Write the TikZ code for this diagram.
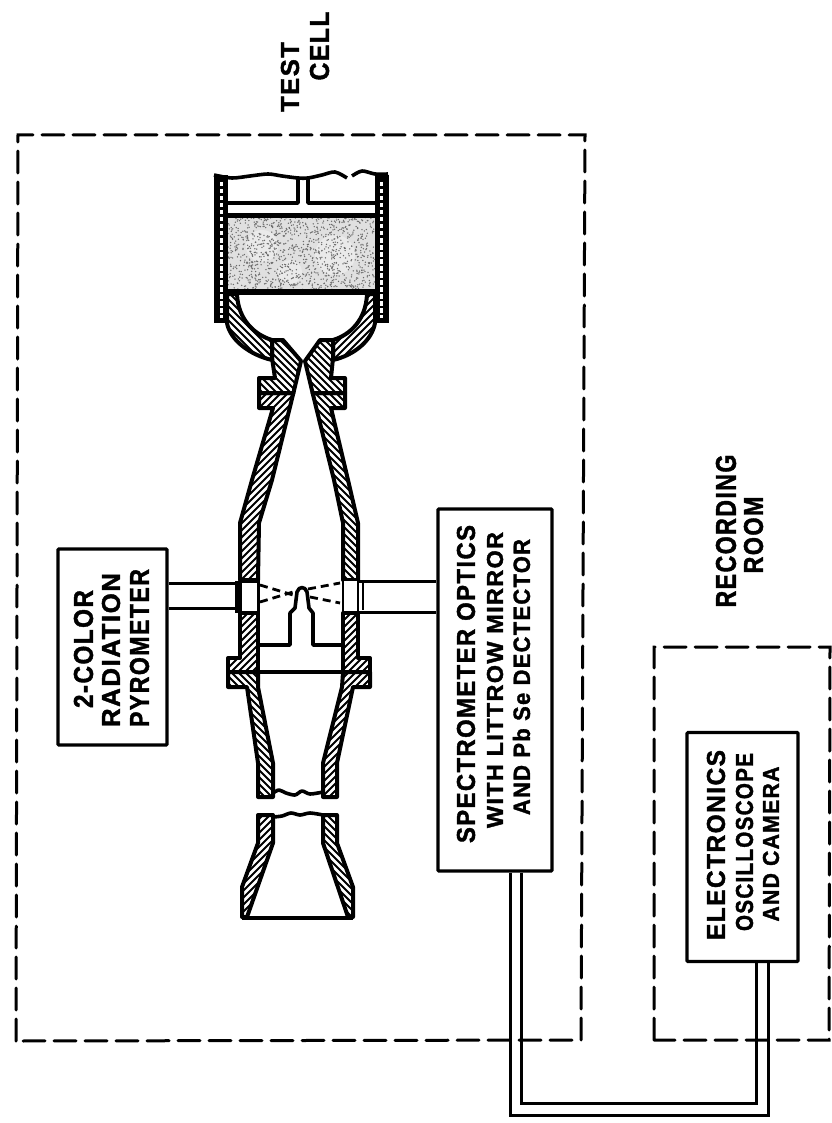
\documentclass[tikz,border=0pt]{standalone}
\usepackage{fontspec}
\usepackage{graphicx}
\setmainfont{Liberation Sans}
\newfontfamily\lblfont{Liberation Sans Bold}[FakeBold=1.6,LetterSpace=6]
\newcommand{\wallp}[4]{%
  \begin{scope}
    \path[clip] #1 -- cycle;
    \foreach \o in {-150,-143,...,150}{\draw[hatchline] ({#3+\o-200*#2},{#4-200}) -- ({#3+\o+200*#2},{#4+200});}
  \end{scope}
  \draw[wallline] #1 -- cycle;}
\newcommand{\lbl}[6]{\node[lab] (#1) at (#2,#3) {\resizebox{#4pt}{#5pt}{\lblfont #6}};}
\tikzset{
  lab/.style={rotate=90,inner sep=0pt,outer sep=0pt},
  boxnode/.style={draw=black,line width=3.2pt,rounded corners=1pt,inner sep=0pt,fill=white},
  dashbox/.style={draw=black,line width=3pt,dash pattern=on 22pt off 9pt,line cap=round},
  wire/.style={draw=black,line width=3pt},
  hatchline/.style={black,line width=2pt},
  wallline/.style={black,line width=4pt,line join=round},
  thinwall/.style={black,line width=3.6pt,line join=round},
  beam/.style={black,line width=2.8pt,dash pattern=on 8pt off 5pt}
}
\begin{document}
\begin{tikzpicture}[x=1pt,y=-1pt]
\useasboundingbox (0,0) rectangle (831,1123);
\fill[white] (0,0) rectangle (831,1123);
% rooms
\draw[dashbox] (16,1041) -- (18,135) -- (585,135) -- (581,1040) -- cycle;
\draw[dashbox] (654,1040) -- (654,647) -- (830,647) -- (829,1040) -- cycle;
% boxes
\node[boxnode,minimum width=109pt,minimum height=196pt] (pyro) at (112.5,647) {};
\node[boxnode,minimum width=114pt,minimum height=362pt] (spec) at (495,690) {};
\node[boxnode,minimum width=111pt,minimum height=229pt] (elec) at (742.5,847) {};
% connectors
\coordinate (c1) at (510,1115);
\coordinate (c2) at (768,1115);
\coordinate (c3) at (521,1103);
\coordinate (c4) at (756,1103);
\draw[wire] (spec.south -| c1) -- (c1) -- (c2) -- (elec.south -| c2);
\draw[wire] (spec.south -| c3) -- (c3) -- (c4) -- (elec.south -| c4);
% pipes
\coordinate (lw1) at (240,583);
\coordinate (lw2) at (240,608);
\coordinate (rw1) at (358,581);
\coordinate (rw2) at (358,612);
\draw[wire] (pyro.east |- lw1) -- (lw1);
\draw[wire] (pyro.east |- lw2) -- (lw2);
\draw[wire] (rw1) -- (spec.west |- rw1);
\draw[wire] (rw2) -- (spec.west |- rw2);
% propellant grain
\fill[black!12] (227,217) rectangle (375,290);
\begin{scope}
\clip (227,217) rectangle (375,290);
\fill[white,opacity=.35] (262,246) circle (16pt);
\fill[white,opacity=.35] (335,255) circle (20pt);
\fill[white,opacity=.35] (290,272) circle (12pt);
\pgfmathsetseed{7}
\foreach \i in {1,...,1150}{\fill[black!58] ({227+148*rnd},{217+73*rnd}) circle (0.75pt);}
\end{scope}
% casing
\fill[black] (213.5,175) rectangle (228,323);
\fill[black] (374.5,175) rectangle (388.5,323);
\draw[white,line width=3pt,dash pattern=on 4.5pt off 2.5pt] (221,182) -- (221,318);
\draw[white,line width=3pt,dash pattern=on 4.5pt off 2.5pt] (381,182) -- (381,318);
\draw[thinwall,smooth] plot coordinates {(214,175)(232,178)(250,176)(268,174)(282,176)(298,178)(308,178)(322,175)(335,172)(347,178)};
\draw[thinwall,smooth] plot coordinates {(352,176)(362,171)(375,174)(388,174)};
\draw[thinwall] (227,203) -- (298,203) -- (298,177);
\draw[thinwall] (308,177) -- (308,203) -- (375,203);
\draw[black,line width=4.5pt] (227,215.5) -- (375,215.5);
\draw[black,line width=5.5pt] (227,292) -- (375,292);
% convergent section
\wallp{(227,294) -- (237,294) .. controls (238,320) and (255,335) .. (272,340) -- (272,360) .. controls (250,355) and (230,340) .. (227,323)}{1}{250}{325}
\wallp{(375,294) -- (367,294) .. controls (366,320) and (350,335) .. (333,340) -- (333,360) .. controls (355,355) and (372,340) .. (375,323)}{-1}{350}{325}
% throat and upper flange
\wallp{(272,340) -- (283,340) -- (301,361) -- (293.4,393) -- (259,393) -- (259,378) -- (275,378) -- (272,358)}{1}{280}{365}
\wallp{(333,340) -- (320,340) -- (305,361) -- (312.6,393) -- (345,393) -- (345,378) -- (331,378) -- (333,358)}{1}{325}{365}
% upper tube
\wallp{(259,393) -- (293.4,393) -- (272,480) -- (259,523) -- (258,580) -- (240,580) -- (240,523) -- (252,480) -- (273,408) -- (259,408)}{-1}{262}{485}
\wallp{(345,393) -- (312.6,393) -- (334,480) -- (343,523) -- (343,580) -- (358,580) -- (358,523) -- (348,480) -- (331,408) -- (345,408)}{1}{340}{485}
% windows
\draw[black,line width=3pt,fill=white] (240,581) rectangle (258,613);
\draw[black,line width=6pt] (238,581) -- (238,613);
\draw[black,line width=2.6pt,fill=white] (343,580) rectangle (358,613);
\draw[black,line width=1.8pt] (363,583) -- (363,610);
% lower tube
\wallp{(240,613) -- (258,613) -- (258,672) -- (228,672) -- (228,658) -- (240,658)}{-1}{245}{640}
\wallp{(343,613) -- (358,613) -- (358,658) -- (370,658) -- (370,672) -- (343,672)}{-1}{355}{640}
\wallp{(228,672) -- (258,672) -- (258,687) -- (273,763) -- (273,797) -- (258,797) -- (258,763) -- (247,687) -- (228,687)}{1}{255}{735}
\wallp{(370,672) -- (343,672) -- (342,687) -- (323,763) -- (323,797) -- (337,797) -- (337,763) -- (353,687) -- (370,687)}{-1}{345}{735}
\draw[thinwall] (258,672) -- (343,672);
\draw[thinwall,smooth] plot coordinates {(273,793)(279,790)(286,793)(295,795)(302,791)(310,794)(323,792)};
% exit cone
\wallp{(258,815) -- (273,815) -- (273,843) -- (247,917) -- (242,917) -- (242,887) -- (258,843)}{-1}{258}{865}
\wallp{(337,815) -- (323,815) -- (323,843) -- (348,917) -- (353,917) -- (353,887) -- (337,843)}{1}{338}{865}
\draw[thinwall,smooth] plot coordinates {(273,817)(282,816)(291,813)(300,815)(310,813)(323,815)};
\draw[thinwall] (242,918) -- (353,918);
% injector and beams
\draw[thinwall] (258,645) -- (290,645) -- (290,613) -- (295,608) -- (297,592) .. controls (299,586) and (305,586) .. (307,592) -- (309,608) -- (313,613) -- (313,645) -- (343,645);
\draw[beam] (260,585) -- (293,595);
\draw[beam] (260,602) -- (293,592);
\draw[beam] (308,589) -- (340,583);
\draw[beam] (310,597) -- (340,603);
% labels
\lbl{t1}{290}{77}{70}{18}{TEST}
\lbl{t2}{319.5}{46}{69}{19}{CELL}
\lbl{t3}{466}{684}{318}{18}{SPECTROMETER OPTICS}
\lbl{t4}{495}{680}{296}{16}{WITH LITTROW MIRROR}
\lbl{t5}{521.5}{677}{276}{17}{AND Pb Se DECTECTOR}
\lbl{t6}{83.5}{649}{118}{19}{2-COLOR}
\lbl{t7}{111}{650}{154}{18}{RADIATION}
\lbl{t8}{139.5}{648}{158}{19}{PYROMETER}
\lbl{t9}{726}{531}{153}{20}{RECORDING}
\lbl{t10}{753.5}{535}{77}{19}{ROOM}
\lbl{t11}{716}{845}{190}{18}{ELECTRONICS}
\lbl{t12}{744.5}{842}{178}{17}{OSCILLOSCOPE}
\lbl{t13}{771}{844}{155}{16}{AND CAMERA}
\end{tikzpicture}
\end{document}
